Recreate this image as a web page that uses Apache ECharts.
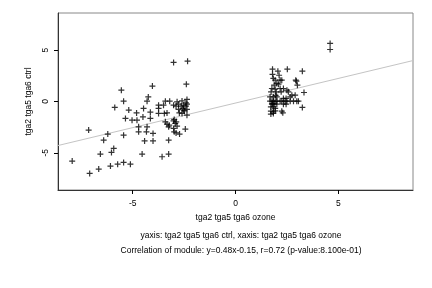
<!DOCTYPE html>
<html>
<head>
<meta charset="utf-8">
<script src="https://cdn.jsdelivr.net/npm/echarts@6/dist/echarts.min.js"></script>
<style>
    html, body { margin: 0; padding: 0; background: #fff; }
    #chart { width: 432px; height: 288px; }
</style>
</head>
<body>
<div id="chart"></div>
<script>
// ozone (x) vs ctrl (y)
const xOzone = [
    // left group
    -3.01, -2.33, -2.39, -4.04, -5.55, -4.24, -4.30, -5.44, -3.41, -3.20,
    -2.84, -2.60, -2.36, -5.87, -5.19, -4.81, -4.47, -4.14, -3.74, -3.46,
    -3.33, -5.35, -5.03, -4.79, -4.50, -4.14, -3.74, -2.77, -2.52, -2.36,
    -2.98, -2.88, -4.71, -4.30, -3.41, -3.25, -7.14, -6.21, -5.44, -4.71,
    -4.33, -4.01, -4.01, -4.42, -6.41, -3.25, -2.98, -2.72, -2.44, -5.92,
    -6.03, -6.57, -4.54, -3.25, -3.57, -7.94, -6.08, -5.73, -5.44, -5.11,
    -6.65, -7.09,
    -2.89, -2.77, -2.64, -2.52, -2.41, -2.36, -3.01, -3.50, -3.74, -2.41,
    -2.57, -2.48, -2.36, -2.73, -2.60, -3.33, -3.22, -3.01, -2.93, -2.84,
    -3.01, -2.89,
    // right group
    4.60, 4.60, 1.80, 2.06, 2.52, 3.25, 1.80, 2.12, 1.84, 1.93,
    2.17, 2.25, 2.93, 2.96, 2.01, 2.09, 1.88, 3.01, 1.77, 1.93,
    2.17, 2.33, 2.50, 1.73, 1.98, 2.22, 2.57, 3.33, 2.74, 2.90,
    2.66, 1.68, 1.84, 2.01, 2.33, 2.46, 1.68, 1.77, 1.84, 1.93,
    2.01, 2.17, 2.25, 2.41, 2.50, 2.66, 2.82, 2.98, 3.06, 1.77,
    1.88, 2.01, 2.33, 2.46, 1.72, 1.84, 1.93, 3.25, 2.25, 1.72,
    1.84, 1.93, 1.72, 1.84, 2.30, 1.80, 1.95
];
const yCtrl = [
    3.81, 3.93, 1.69, 1.50, 1.10, 0.45, 0.03, 0.03, 0.03, 0.03,
    -0.03, 0.06, 0.20, -0.58, -0.84, -1.11, -0.68, -1.04, -0.68, -1.16,
    -1.11, -1.65, -1.82, -1.82, -1.50, -1.65, -1.16, -0.77, -0.84, -1.33,
    -1.75, -1.98, -2.47, -2.47, -1.98, -2.47, -2.79, -3.18, -3.28, -2.96,
    -2.96, -3.11, -3.84, -3.84, -3.77, -3.77, -2.96, -3.18, -2.69, -4.58,
    -4.97, -5.13, -5.13, -5.13, -5.39, -5.81, -6.30, -6.11, -5.94, -6.11,
    -6.59, -7.01,
    -0.45, -0.26, -0.45, -0.36, -0.45, -0.26, -0.36, -0.36, -0.36, -0.13,
    -0.68, -0.91, -0.77, -1.11, -1.16, -2.21, -2.31, -1.89, -2.14, -2.40,
    -2.63, -3.06,
    5.66, 5.07, 3.15, 2.96, 3.15, 2.96, 2.64, 2.56, 2.25, 2.08,
    2.08, 2.08, 2.08, 1.98, 1.76, 1.69, 1.59, 1.59, 1.27, 1.20,
    1.27, 1.27, 1.10, 0.94, 0.94, 0.94, 0.94, 0.88, 0.62, 0.62,
    0.45, 0.45, 0.45, 0.45, 0.30, 0.30, 0.03, 0.03, 0.03, 0.03,
    0.03, 0.03, 0.03, 0.03, 0.03, 0.03, 0.03, 0.03, 0.03, -0.26,
    -0.26, -0.26, -0.26, -0.26, -0.52, -0.52, -0.68, -0.58, -0.94, -0.94,
    -1.01, -0.91, -1.23, -1.16, -1.10, -0.20, 0.60
];
const tickValues = [-5, 0, 5];
const axisLimit = 8.63;
const slope = 0.48;
const intercept = -0.15;

const points = xOzone.map((x, i) => [x, yCtrl[i]]);
const fitLine = [
    [-axisLimit, slope * -axisLimit + intercept],
    [axisLimit, slope * axisLimit + intercept],
];

const font = 'Liberation Sans, Arial, sans-serif';
const plus = 'path://M2.4,0H3.6V2.4H6V3.6H3.6V6H2.4V3.6H0V2.4H2.4Z';

const chart = echarts.init(document.getElementById('chart'));

chart.setOption({
    animation: false,
    backgroundColor: '#fff',
    title: [
        {
            text: 'yaxis: tga2 tga5 tga6 ctrl, xaxis: tga2 tga5 tga6 ozone',
            left: 236,
            top: 226,
            textAlign: 'center',
            textStyle: { fontFamily: font, fontSize: 8.5, fontWeight: 'normal', color: '#000' },
        },
        {
            text: 'Correlation of module: y=0.48x-0.15, r=0.72 (p-value:8.100e-01)',
            left: 236,
            top: 241,
            textAlign: 'center',
            textStyle: { fontFamily: font, fontSize: 8.5, fontWeight: 'normal', color: '#000' },
        },
    ],
    grid: {
        left: 58,
        top: 13,
        width: 355,
        height: 177,
        show: true,
        borderColor: '#888',
        borderWidth: 1,
    },
    xAxis: {
        type: 'value',
        min: -axisLimit,
        max: axisLimit,
        name: 'tga2 tga5 tga6 ozone',
        nameLocation: 'middle',
        nameGap: 21,
        nameTextStyle: { fontFamily: font, fontSize: 8.5, color: '#000' },
        splitLine: { show: false },
        axisLine: { show: true, onZero: false, lineStyle: { color: '#333' } },
        axisTick: { show: true, length: 4, customValues: tickValues, lineStyle: { color: '#000' } },
        axisLabel: {
            customValues: tickValues,
            margin: 9,
            fontFamily: font,
            fontSize: 8.5,
            color: '#000',
        },
    },
    yAxis: {
        type: 'value',
        min: -axisLimit,
        max: axisLimit,
        name: 'tga2 tga5 tga6 ctrl',
        nameLocation: 'middle',
        nameGap: 18,
        nameTextStyle: { fontFamily: font, fontSize: 8.5, color: '#000' },
        splitLine: { show: false },
        axisLine: { show: true, onZero: false, lineStyle: { color: '#333' } },
        axisTick: { show: true, length: 4, customValues: tickValues, lineStyle: { color: '#000' } },
        axisLabel: {
            customValues: tickValues,
            rotate: 90,
            margin: 8,
            fontFamily: font,
            fontSize: 8.5,
            color: '#000',
        },
    },
    series: [
        {
            type: 'line',
            data: fitLine,
            symbol: 'none',
            lineStyle: { color: '#c4c4c4', width: 1 },
            z: 1,
        },
        {
            type: 'scatter',
            data: points,
            symbol: plus,
            symbolSize: 6,
            itemStyle: { color: '#000' },
            z: 2,
        },
    ],
});
</script>
</body>
</html>
